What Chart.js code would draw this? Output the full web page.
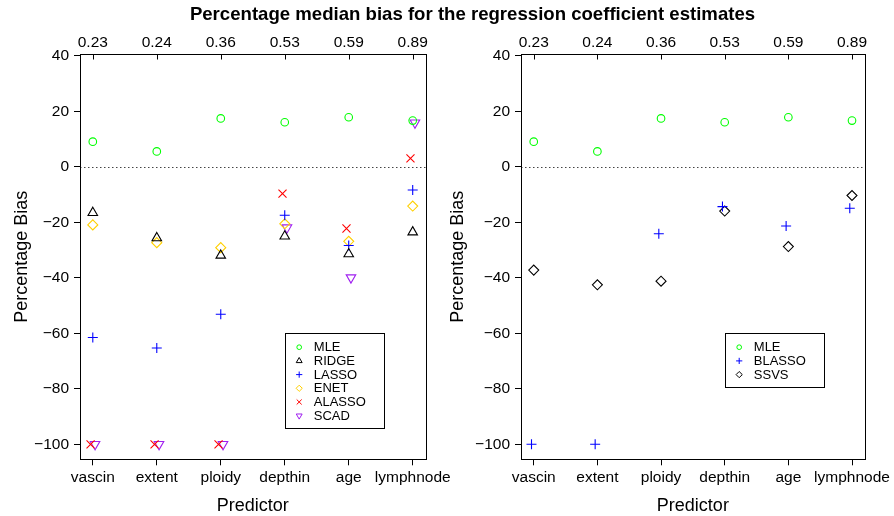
<!DOCTYPE html>
<html><head><meta charset="utf-8">
<script src="https://cdn.jsdelivr.net/npm/chart.js@4/dist/chart.umd.min.js"></script>
<style>
html,body{margin:0;padding:0;background:#fff;}
#wrap{position:relative;width:894px;height:516px;overflow:hidden;background:#fff;}
#title{position:absolute;left:0;width:945px;top:5px;text-align:center;font:bold 18.6px "Liberation Sans",Arial,Helvetica,sans-serif;line-height:18px;color:#000;white-space:nowrap;}
#c1{position:absolute;left:0;top:0;}
#c2{position:absolute;left:447px;top:0;}
</style></head><body>
<div id="wrap">
<canvas id="c1" width="480" height="516" style="width:480px;height:516px"></canvas>
<canvas id="c2" width="447" height="516" style="width:447px;height:516px"></canvas>
<div id="title">Percentage median bias for the regression coefficient estimates</div>
</div>
<script>
// ---- data ----
const categories = ['vascin','extent','ploidy','depthin','age','lymphnode'];
const topLabels = ['0.23','0.24','0.36','0.53','0.59','0.89'];
const yTicks = [-100,-80,-60,-40,-20,0,20,40];
const mle    = [9.1, 5.6, 17.5, 16.1, 17.9, 16.7];
const ridge  = [-16.5, -25.6, -31.9, -25.0, -31.4, -23.5];
const lasso  = [-61.5, -65.3, -53.1, -17.4, -28.3, -8.3];
const enet   = [-20.9, -27.3, -29.1, -20.5, -26.8, -14.1];
const alasso = [-100, -100, -100, -9.6, -22.2, 3.1];
const scad   = [-100, -100, -100, -21.9, -39.9, 15.9];
const blasso = [-100, -100, -24.1, -14.3, -21.3, -14.9];
const ssvs   = [-37.2, -42.5, -41.2, -15.9, -28.7, -10.3];

const FONT = '"Liberation Sans", Arial, Helvetica, sans-serif';

function ds(label, values, color, style, radius, dx, rot) {
  return {
    label,
    data: values.map((v, i) => ({ x: i + 1 + (dx || 0), y: v })),
    borderColor: color,
    backgroundColor: 'rgba(0,0,0,0)',
    pointStyle: style,
    pointRadius: radius,
    pointHoverRadius: radius,
    pointBorderWidth: 1.1,
    pointRotation: rot || 0,
    showLine: false
  };
}

const decor = {
  id: 'decor',
  beforeDatasetsDraw(chart) {
    const ctx = chart.ctx, a = chart.chartArea, y = chart.scales.y;
    const py = Math.round(y.getPixelForValue(0)) + 0.5;
    ctx.save();
    ctx.strokeStyle = '#444';
    ctx.lineWidth = 1;
    ctx.setLineDash([1.5, 2.5]);
    ctx.beginPath(); ctx.moveTo(a.left, py); ctx.lineTo(a.right, py); ctx.stroke();
    ctx.restore();
  },
  afterDatasetsDraw(chart, args, opts) {
    const ctx = chart.ctx, a = chart.chartArea;
    ctx.save();
    ctx.strokeStyle = '#000';
    ctx.lineWidth = 1;
    const L = Math.round(a.left) + 0.5, R = Math.round(a.right) + 0.5;
    const T = Math.round(a.top) + 0.5, B = Math.round(a.bottom) + 0.5;
    ctx.strokeRect(L, T, R - L, B - T);
    // inward ticks on the top axis
    const x2 = chart.scales.x2;
    ctx.beginPath();
    x2.ticks.forEach(t => {
      const px = Math.round(x2.getPixelForValue(t.value)) + 0.5;
      ctx.moveTo(px, T); ctx.lineTo(px, T + 5);
    });
    ctx.stroke();
    // legend box
    const xs = chart.scales.x, ys = chart.scales.y;
    const lx = Math.round(xs.getPixelForValue(opts.legendX)) + 0.5;
    const ly = Math.round(ys.getPixelForValue(opts.legendY)) + 0.5;
    ctx.font = '13px ' + FONT;
    const dsets = chart.data.datasets;
    let maxW = 0;
    dsets.forEach(d => { maxW = Math.max(maxW, ctx.measureText(d.label).width); });
    const rowH = 13.7;
    const w = Math.round(28.3 + maxW + 18.5);
    const h = Math.round(dsets.length * rowH + 13);
    ctx.fillStyle = '#fff';
    ctx.fillRect(lx, ly, w, h);
    ctx.strokeRect(lx, ly, w, h);
    dsets.forEach((d, i) => {
      const cy = ly + 13.7 + i * rowH;
      ctx.strokeStyle = d.borderColor;
      ctx.fillStyle = 'rgba(0,0,0,0)';
      ctx.lineWidth = 1;
      Chart.helpers.drawPoint(ctx, {
        pointStyle: d.pointStyle,
        radius: d.pointRadius * 0.62,
        rotation: d.pointRotation,
        borderWidth: 1
      }, lx + 13.7, cy);
      ctx.fillStyle = '#000';
      ctx.textBaseline = 'middle';
      ctx.textAlign = 'left';
      ctx.fillText(d.label, lx + 28.3, cy + 0.5);
    });
    ctx.restore();
  }
};

function makeOptions(yAxisWidth, yTitlePad, padRight) {
  const tickFont = { family: FONT, size: 15.5 };
  const idxTicks = s => { s.ticks = categories.map((c, i) => ({ value: i + 1 })); };
  return {
    responsive: false,
    animation: false,
    events: [],
    layout: { padding: { left: 0, right: padRight, top: 0, bottom: 0 } },
    plugins: {
      legend: { display: false },
      tooltip: { enabled: false },
      decor: { legendX: 4, legendY: -60 }
    },
    scales: {
      x: {
        type: 'linear', position: 'bottom', min: 0.8, max: 6.2,
        afterBuildTicks: idxTicks,
        afterFit: s => { s.height = 56.7; },
        ticks: { autoSkip: false, maxRotation: 0, minRotation: 0, padding: 3, color: '#000', font: tickFont,
                 callback: v => categories[Math.round(v) - 1] },
        grid: { display: true, drawOnChartArea: false, drawTicks: true, tickLength: 6, tickColor: '#000', tickWidth: 1 },
        border: { display: false },
        title: { display: true, text: 'Predictor', color: '#000', font: { family: FONT, size: 18, lineHeight: 1.1 }, padding: { top: 0, bottom: 0 } }
      },
      x2: {
        type: 'linear', position: 'top', min: 0.8, max: 6.2,
        afterBuildTicks: idxTicks,
        afterFit: s => { s.height = 54.3; },
        ticks: { autoSkip: false, maxRotation: 0, minRotation: 0, padding: 2.5, color: '#000', font: tickFont,
                 callback: v => topLabels[Math.round(v) - 1] },
        grid: { display: true, drawOnChartArea: false, drawTicks: false },
        border: { display: false }
      },
      y: {
        type: 'linear', position: 'left', min: -105.4, max: 40.6,
        afterBuildTicks: s => { s.ticks = yTicks.map(v => ({ value: v })); },
        afterFit: s => { s.width = yAxisWidth; },
        ticks: { padding: 5, color: '#000', font: tickFont,
                 callback: v => (v < 0 ? '\u2212' + Math.abs(v) : String(v)) },
        grid: { display: true, drawOnChartArea: false, drawTicks: true, tickLength: 6, tickColor: '#000', tickWidth: 1 },
        border: { display: false },
        title: { display: true, text: 'Percentage Bias', color: '#000', font: { family: FONT, size: 18, lineHeight: 1.2 }, padding: { top: yTitlePad, bottom: 0 } }
      }
    }
  };
}

new Chart(document.getElementById('c1'), {
  type: 'scatter',
  data: {
    datasets: [
      ds('MLE', mle, '#00FF00', 'circle', 3.8),
      ds('RIDGE', ridge, '#000000', 'triangle', 5.5),
      ds('LASSO', lasso, '#0000FF', 'cross', 5),
      ds('ENET', enet, '#FFD000', 'rectRot', 5),
      ds('ALASSO', alasso, '#FF0000', 'crossRot', 5.7, -0.035),
      ds('SCAD', scad, '#A020F0', 'triangle', 5.5, 0.035, 180)
    ]
  },
  options: makeOptions(80, 11, 54.5),
  plugins: [decor]
});

new Chart(document.getElementById('c2'), {
  type: 'scatter',
  data: {
    datasets: [
      ds('MLE', mle, '#00FF00', 'circle', 3.8),
      ds('BLASSO', blasso, '#0000FF', 'cross', 5, -0.035),
      ds('SSVS', ssvs, '#000000', 'rectRot', 5)
    ]
  },
  options: makeOptions(74, 0, 27.5),
  plugins: [decor]
});
</script>
</body></html>
